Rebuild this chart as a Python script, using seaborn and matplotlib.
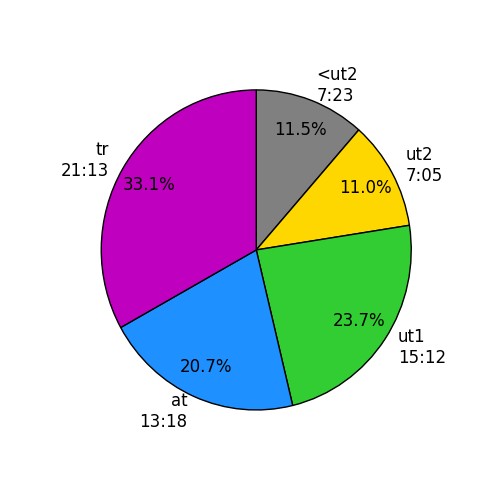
import matplotlib
matplotlib.use('Agg')
import matplotlib.pyplot as plt
import seaborn as sns

# Time spent per zone, in minutes
zones = ['<ut2', 'ut2', 'ut1', 'at', 'tr']
times = ['7:23', '7:05', '15:12', '13:18', '21:13']
minutes = [443, 425, 912, 798, 1273]
colors = ['gray', 'gold', 'limegreen', 'dodgerblue', 'm']

labels = [f'{z}\n{t}' for z, t in zip(zones, times)]

fig, ax = plt.subplots(figsize=(5, 5), dpi=100)
ax.pie(minutes, labels=labels, colors=colors, autopct='%1.1f%%',
       startangle=90, counterclock=False, pctdistance=0.8,
       wedgeprops={'edgecolor': 'black', 'linewidth': 1},
       textprops={'fontsize': 12})
# reference pie is slightly taller than wide
ax.set_aspect('auto')
ax.set_xlim(-1.25, 1.25)
ax.set_ylim(-1.219, 1.187)
fig.savefig('out.png', dpi=100)
